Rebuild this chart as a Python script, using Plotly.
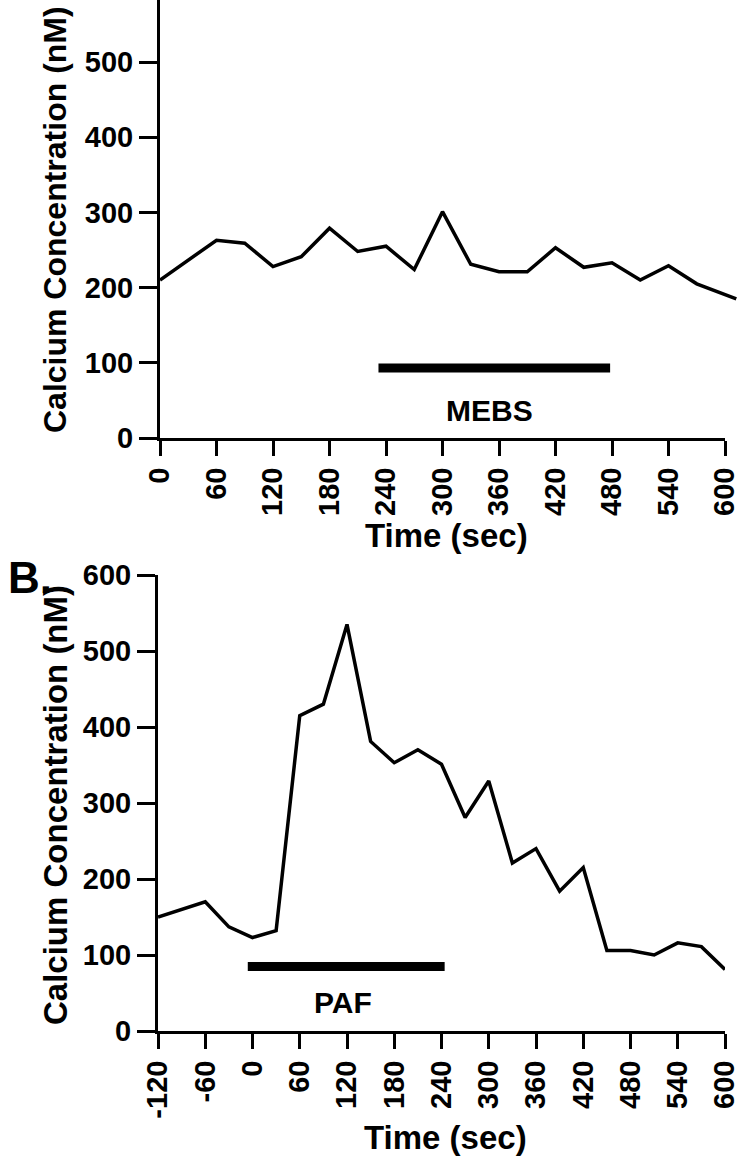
import plotly.graph_objects as go

# ---------------- data ----------------
# Panel A (MEBS)
time_a = [0, 30, 60, 90, 120, 150, 180, 210, 240, 270, 300, 330, 360, 390, 420,
          450, 480, 510, 540, 570, 612]
calcium_a = [210, 236, 263, 259, 228, 241, 279, 248, 255, 224, 301, 231, 221, 221,
             253, 227, 233, 210, 229, 205, 185]
mebs_period = [232, 478]
mebs_level = [93, 93]
ticks_a = [0, 60, 120, 180, 240, 300, 360, 420, 480, 540, 600]

# Panel B (PAF)
time_b = [-120, -60, -30, 0, 30, 60, 90, 120, 150, 180, 210, 240, 270, 300, 330,
          360, 390, 420, 450, 480, 510, 540, 570, 600]
calcium_b = [150, 170, 137, 123, 132, 415, 430, 535, 381, 353, 370, 351, 281, 329,
             221, 240, 184, 215, 106, 106, 100, 116, 111, 81]
paf_period = [-6, 244]
paf_level = [85, 85]
ticks_b = [-120, -60, 0, 60, 120, 180, 240, 300, 360, 420, 480, 540, 600]

y_ticks = [0, 100, 200, 300, 400, 500, 600]

# ---------------- layout helpers ----------------
W, H = 742, 1157
FONT = "Liberation Sans, Arial, Helvetica, sans-serif"


def fx(p):
    return p / W


def fy(p):
    return 1 - p / H


# pixel geometry
A_left, A_right, A_line_end = 160, 725, 740
A_zero, A_top = 438, 0
A_scale = 75.2  # px per 100 nM
B_left, B_right = 158, 725
B_zero, B_600 = 1031, 575

tickfont = dict(family=FONT, size=29, color="black", weight="bold")

common_x = dict(showgrid=False, zeroline=False, showline=True, linecolor="black",
                linewidth=3, ticks="outside", ticklen=15, tickwidth=3,
                tickcolor="black", tickangle=-90, tickfont=tickfont,
                automargin=False)
common_y = dict(showgrid=False, zeroline=False, showline=True, linecolor="black",
                linewidth=3, ticks="outside", ticklen=18, tickwidth=3,
                tickcolor="black", tickfont=tickfont, tickvals=y_ticks,
                ticktext=[str(v) for v in y_ticks], automargin=False)

fig = go.Figure()

line_style = dict(color="black", width=3.5)
bar_style = dict(color="black", width=9)

# Panel A
fig.add_trace(go.Scatter(x=mebs_period, y=mebs_level, mode="lines", line=bar_style,
                         xaxis="x", yaxis="y", showlegend=False, hoverinfo="skip"))
fig.add_trace(go.Scatter(x=time_a, y=calcium_a, mode="lines", line=line_style,
                         xaxis="x3", yaxis="y", showlegend=False))
# Panel B
fig.add_trace(go.Scatter(x=time_b, y=calcium_b, mode="lines", line=line_style,
                         xaxis="x2", yaxis="y2", showlegend=False))
fig.add_trace(go.Scatter(x=paf_period, y=paf_level, mode="lines", line=bar_style,
                         xaxis="x2", yaxis="y2", showlegend=False, hoverinfo="skip"))

a_ymax = (A_zero - A_top) / A_scale * 100
a_x3max = 600 * (A_line_end - A_left) / (A_right - A_left)

fig.update_layout(
    template="none",
    width=W, height=H, autosize=False,
    margin=dict(l=0, r=0, t=0, b=0, pad=0),
    paper_bgcolor="white", plot_bgcolor="rgba(0,0,0,0)",
    xaxis=dict(domain=[fx(A_left), fx(A_right)], range=[0, 600], anchor="y",
               tickvals=ticks_a, ticktext=[str(v) for v in ticks_a], **common_x),
    xaxis3=dict(domain=[fx(A_left), fx(A_line_end)], range=[0, a_x3max], anchor="y",
                visible=False, automargin=False),
    yaxis=dict(domain=[fy(A_zero), fy(A_top)], range=[0, a_ymax], anchor="x",
               **common_y),
    xaxis2=dict(domain=[fx(B_left), fx(B_right)], range=[-120, 600], anchor="y2",
                tickvals=ticks_b, ticktext=[str(v) for v in ticks_b], **common_x),
    yaxis2=dict(domain=[fy(B_zero), fy(B_600)], range=[0, 600], anchor="x2",
                **common_y),
)

title_font_a = dict(family=FONT, size=32, color="black", weight="bold")
title_font = dict(family=FONT, size=33, color="black", weight="bold")
label_font = dict(family=FONT, size=30, color="black", weight="bold")

annotations = [
    # y-axis titles
    dict(text="Calcium Concentration (nM)", textangle=-90, x=fx(55), y=fy(220),
         xref="paper", yref="paper", showarrow=False, font=title_font_a,
         xanchor="center", yanchor="middle"),
    dict(text="Calcium Concentration (nM)", textangle=-90, x=fx(55), y=fy(805),
         xref="paper", yref="paper", showarrow=False, font=title_font,
         xanchor="center", yanchor="middle"),
    # x-axis titles
    dict(text="Time (sec)", x=fx(446), y=fy(536), xref="paper", yref="paper",
         showarrow=False, font=title_font, xanchor="center", yanchor="middle"),
    dict(text="Time (sec)", x=fx(445), y=fy(1137), xref="paper", yref="paper",
         showarrow=False, font=title_font, xanchor="center", yanchor="middle"),
    # treatment labels
    dict(text="MEBS", x=350, y=37, xref="x", yref="y", showarrow=False,
         font=label_font, xanchor="center", yanchor="middle"),
    dict(text="PAF", x=115, y=37, xref="x2", yref="y2", showarrow=False,
         font=label_font, xanchor="center", yanchor="middle"),
    # panel letter
    dict(text="B.", x=fx(30), y=fy(577), xref="paper", yref="paper",
         showarrow=False, font=dict(family=FONT, size=44, color="black", weight="bold"),
         xanchor="center", yanchor="middle"),
]
fig.update_layout(annotations=annotations)

fig.write_html("out.html")
